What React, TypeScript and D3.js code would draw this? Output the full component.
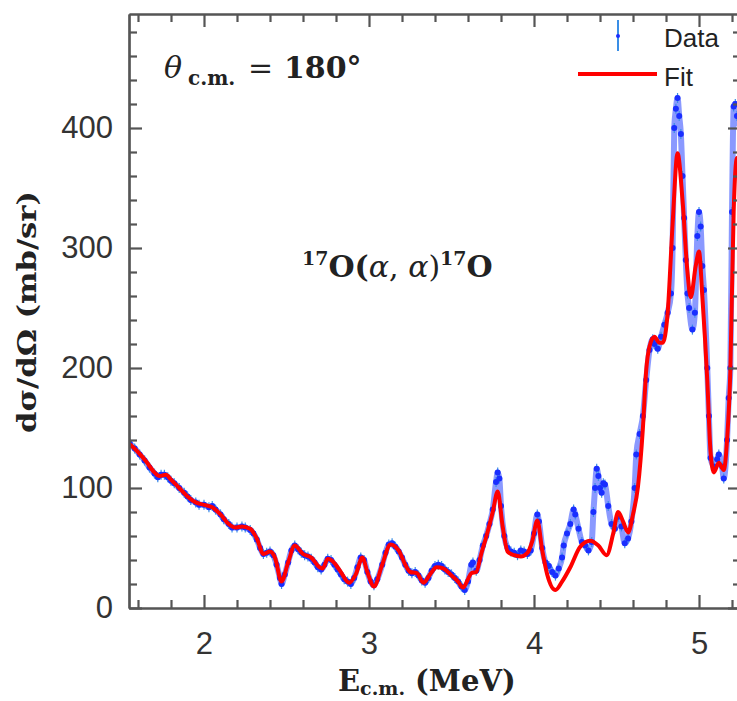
import * as d3 from "d3";
import React, { useRef, useEffect } from "react";

// values (E in MeV, cross section in mb/sr)
const fitE = [1.545, 1.6, 1.65, 1.7, 1.73, 1.77, 1.8, 1.85, 1.9, 1.95, 2.0, 2.05, 2.1, 2.15, 2.19, 2.23, 2.28, 2.32, 2.36, 2.4, 2.43, 2.47, 2.51, 2.55, 2.6, 2.65, 2.7, 2.72, 2.75, 2.78, 2.82, 2.88, 2.92, 2.96, 2.99, 3.03, 3.08, 3.13, 3.18, 3.22, 3.25, 3.29, 3.33, 3.37, 3.41, 3.45, 3.5, 3.54, 3.57, 3.6, 3.62, 3.65, 3.68, 3.71, 3.75, 3.78, 3.81, 3.84, 3.88, 3.92, 3.96, 3.99, 4.02, 4.05, 4.08, 4.13, 4.17, 4.22, 4.28, 4.34, 4.39, 4.44, 4.48, 4.51, 4.54, 4.57, 4.6, 4.63, 4.66, 4.68, 4.7, 4.73, 4.76, 4.78, 4.81, 4.84, 4.87, 4.9, 4.93, 4.95, 4.98, 5.0, 5.02, 5.05, 5.07, 5.09, 5.12, 5.15, 5.17, 5.19, 5.21, 5.23, 5.26];
const fitV = [137, 130, 122, 113, 110, 111, 107, 100, 93, 88, 86, 84, 78, 70, 67, 68, 66, 58, 45, 47, 42, 22, 38, 52, 45, 42, 34, 33, 41, 39, 32, 21, 28, 42, 30, 18, 36, 53, 48, 36, 30, 29, 21, 28, 34, 33, 27, 22, 17, 24, 29, 30, 45, 59, 80, 97, 68, 47, 44, 43, 46, 56, 73, 48, 28, 15, 22, 34, 51, 56, 52, 44, 62, 80, 72, 63, 78, 101, 150, 198, 218, 226, 221, 221, 246, 320, 379, 340, 280, 259, 285, 297, 260, 190, 130, 113, 121, 115, 140, 198, 330, 375, 368];

const dataE = [1.55, 1.58, 1.61, 1.64, 1.67, 1.7, 1.72, 1.74, 1.76, 1.78, 1.8, 1.82, 1.85, 1.88, 1.9, 1.92, 1.95, 1.97, 2.0, 2.03, 2.05, 2.07, 2.1, 2.12, 2.15, 2.17, 2.2, 2.23, 2.25, 2.28, 2.3, 2.32, 2.34, 2.36, 2.38, 2.4, 2.42, 2.44, 2.46, 2.47, 2.49, 2.51, 2.53, 2.55, 2.57, 2.59, 2.61, 2.63, 2.65, 2.67, 2.69, 2.71, 2.73, 2.75, 2.77, 2.79, 2.81, 2.83, 2.85, 2.87, 2.89, 2.91, 2.93, 2.95, 2.97, 2.99, 3.01, 3.03, 3.05, 3.08, 3.1, 3.12, 3.14, 3.16, 3.18, 3.2, 3.22, 3.24, 3.26, 3.28, 3.3, 3.32, 3.34, 3.36, 3.38, 3.4, 3.42, 3.44, 3.46, 3.48, 3.5, 3.52, 3.54, 3.56, 3.58, 3.6, 3.62, 3.63, 3.65, 3.67, 3.69, 3.71, 3.73, 3.75, 3.77, 3.78, 3.79, 3.8, 3.82, 3.84, 3.86, 3.88, 3.9, 3.92, 3.94, 3.96, 3.98, 4.0, 4.02, 4.03, 4.05, 4.07, 4.09, 4.11, 4.13, 4.15, 4.17, 4.18, 4.2, 4.22, 4.24, 4.25, 4.27, 4.29, 4.31, 4.33, 4.35, 4.36, 4.37, 4.38, 4.39, 4.4, 4.41, 4.42, 4.43, 4.45, 4.47, 4.49, 4.51, 4.53, 4.55, 4.57, 4.59, 4.61, 4.62, 4.64, 4.66, 4.68, 4.7, 4.72, 4.73, 4.75, 4.77, 4.79, 4.81, 4.83, 4.84, 4.85, 4.86, 4.87, 4.88, 4.89, 4.9, 4.91, 4.92, 4.93, 4.94, 4.96, 4.975, 4.99, 5.0, 5.01, 5.02, 5.03, 5.05, 5.06, 5.07, 5.09, 5.11, 5.12, 5.14, 5.15, 5.17, 5.18, 5.19, 5.2, 5.21, 5.22, 5.23, 5.25];
const dataV = [137, 133, 128, 123, 117, 112, 109, 111, 111, 109, 106, 104, 100, 96, 93, 90, 88, 86, 86, 84, 85, 82, 78, 74, 70, 67, 67, 68, 67, 65, 62, 57, 50, 45, 46, 47, 44, 36, 25, 20, 28, 38, 48, 52, 49, 46, 44, 43, 41, 38, 34, 32, 36, 41, 40, 36, 32, 28, 24, 22, 20, 25, 34, 42, 40, 30, 22, 19, 24, 36, 46, 53, 54, 51, 47, 42, 36, 31, 29, 30, 27, 23, 21, 25, 31, 35, 36, 35, 32, 30, 28, 25, 22, 18, 15, 22, 36, 38, 31, 40, 52, 60, 70, 82, 105, 113, 108, 85, 60, 50, 47, 46, 44, 48, 47, 45, 48, 62, 78, 72, 50, 38, 35, 30, 27, 33, 42, 52, 62, 70, 82, 78, 66, 55, 52, 48, 55, 80, 100, 116, 110, 100, 96, 104, 103, 85, 70, 66, 76, 68, 54, 58, 72, 100, 128, 145, 160, 190, 215, 224, 220, 216, 226, 236, 246, 262, 300, 400, 416, 425, 410, 395, 360, 325, 290, 262, 250, 232, 246, 310, 330, 318, 285, 265, 200, 160, 125, 118, 124, 128, 118, 108, 140, 175, 200, 330, 418, 420, 410, 400];

const xMajor = [2, 3, 4, 5];
const yMajor = [0, 100, 200, 300, 400];

const width = 737;
const height = 701;

function App() {
  const ref = useRef(null);
  const margin = { top: 14, left: 129 };
  const plotRight = 741;
  const plotBottom = 608;

  const x = d3.scaleLinear().domain([1.5455, 5.2545]).range([margin.left, plotRight]);
  const y = d3.scaleLinear().domain([0, 495]).range([plotBottom, margin.top]);

  const xMinor = d3.range(1.6, 5.25, 0.2).filter((v) => !xMajor.some((m) => Math.abs(m - v) < 1e-6));
  const yMinor = d3.range(20, 495, 20).filter((v) => v % 100 !== 0);

  const fit = fitE.map((e, i) => ({ e, v: fitV[i] }));
  const data = dataE.map((e, i) => ({ e, v: dataV[i] }));

  useEffect(() => {
    const svg = d3.select(ref.current);
    svg.selectAll(".axis").remove();
    const axisColor = "#555";

    const add = (axis, transform) => {
      const g = svg.append("g").attr("class", "axis").attr("transform", transform).call(axis);
      g.selectAll("path, line").attr("stroke", axisColor).attr("stroke-width", 2.2);
      g.selectAll("text")
        .attr("font-family", "'Liberation Sans', Arial, sans-serif")
        .attr("font-size", 31)
        .attr("fill", "#333");
      return g;
    };

    add(d3.axisBottom(x).tickValues(xMajor).tickFormat(d3.format("d")).tickSizeInner(-13).tickSizeOuter(0).tickPadding(24), `translate(0,${plotBottom})`);
    add(d3.axisBottom(x).tickValues(xMinor).tickFormat(() => "").tickSizeInner(-8).tickSizeOuter(0), `translate(0,${plotBottom})`);
    add(d3.axisTop(x).tickValues(xMajor).tickFormat(() => "").tickSizeInner(-13).tickSizeOuter(0), `translate(0,${margin.top})`);
    add(d3.axisTop(x).tickValues(xMinor).tickFormat(() => "").tickSizeInner(-8).tickSizeOuter(0), `translate(0,${margin.top})`);
    add(d3.axisLeft(y).tickValues(yMajor).tickFormat(d3.format("d")).tickSizeInner(-13).tickSizeOuter(0).tickPadding(16), `translate(${margin.left},0)`);
    add(d3.axisLeft(y).tickValues(yMinor).tickFormat(() => "").tickSizeInner(-8).tickSizeOuter(0), `translate(${margin.left},0)`);
    add(d3.axisRight(y).tickValues(yMajor).tickFormat(() => "").tickSizeInner(-13).tickSizeOuter(0), `translate(${plotRight},0)`);
    add(d3.axisRight(y).tickValues(yMinor).tickFormat(() => "").tickSizeInner(-8).tickSizeOuter(0), `translate(${plotRight},0)`);
  }, []); // eslint-disable-line react-hooks/exhaustive-deps

  const line = d3
    .line()
    .x((d) => x(d.e))
    .y((d) => y(d.v))
    .curve(d3.curveMonotoneX);

  const serif = "'DejaVu Serif', serif";

  return (
    <svg ref={ref} width={width} height={height} style={{ position: "absolute", left: 0, top: 0, background: "#fff" }}>
      <defs>
        <clipPath id="plot">
          <rect x={margin.left} y={margin.top} width={plotRight - margin.left} height={plotBottom - margin.top} />
        </clipPath>
      </defs>
      <g clipPath="url(#plot)">
        <path d={line(data)} fill="none" stroke="#2a46ff" strokeWidth={6} strokeOpacity={0.55} />
        {data.map((d, i) => (
          <line key={"e" + i} x1={x(d.e)} x2={x(d.e)} y1={y(d.v) - 5} y2={y(d.v) + 5} stroke="#3a8ee6" strokeWidth={1.2} />
        ))}
        {data.map((d, i) => (
          <circle key={"d" + i} cx={x(d.e)} cy={y(d.v)} r={3} fill="#1a2eff" />
        ))}
        <path d={line(fit)} fill="none" stroke="#ff0000" strokeWidth={4} />
      </g>

      {/* legend */}
      <line x1={618} x2={618} y1={20} y2={51} stroke="#3a8ee6" strokeWidth={2} />
      <circle cx={618} cy={36} r={2} fill="#1a2eff" />
      <text x={664} y={47} fontFamily="'Liberation Sans', Arial, sans-serif" fontSize={26} fill="#222">Data</text>
      <line x1={578} x2={657} y1={74} y2={74} stroke="#ff0000" strokeWidth={4} />
      <text x={664} y={86} fontFamily="'Liberation Sans', Arial, sans-serif" fontSize={26} fill="#222">Fit</text>

      {/* annotations */}
      <g fontFamily={serif} fill="#222">
        <text x={164} y={78} fontSize={30} fontStyle="italic">θ</text>
        <text x={188} y={85} fontSize={20} fontWeight="bold">c.m.</text>
        <text x={248} y={78} fontSize={30}>=</text>
        <text x={284} y={78} fontSize={30} fontWeight="bold">180°</text>

        <text x={302} y={277} fontWeight="bold" fontSize={30}>
          <tspan fontSize={19} dy={-12}>17</tspan>
          <tspan dy={12}>O(</tspan>
          <tspan fontStyle="italic" fontWeight="normal">α</tspan>
          <tspan fontWeight="normal">, </tspan>
          <tspan fontStyle="italic" fontWeight="normal">α</tspan>
          <tspan fontWeight="normal">)</tspan>
          <tspan fontSize={19} dy={-12}>17</tspan>
          <tspan dy={12}>O</tspan>
        </text>

        <text x={338} y={691} fontWeight="bold" fontSize={29}>
          <tspan>E</tspan>
          <tspan fontSize={19} dy={4}>c.m.</tspan>
          <tspan dy={-4}> (MeV)</tspan>
        </text>

        <text
          transform="translate(36,312) rotate(-90)"
          textAnchor="middle"
          fontWeight="bold"
          fontSize={26}
          textLength={242}
          lengthAdjust="spacingAndGlyphs"
        >
          dσ/dΩ (mb/sr)
        </text>
      </g>
    </svg>
  );
}

export default App;
